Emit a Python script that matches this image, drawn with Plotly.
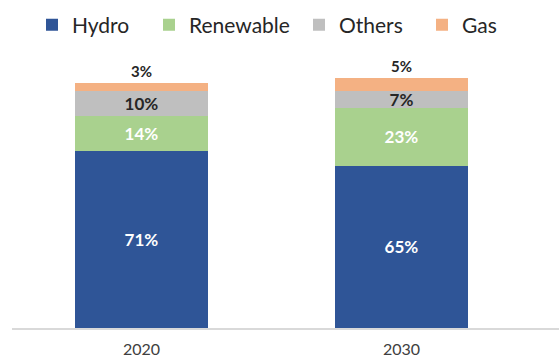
import plotly.graph_objects as go

# Generation mix share (%) by year
years = ["2020", "2030"]
hydro = [71, 65]
renewable = [14, 23]
others = [10, 7]
gas = [3, 5]

series_names = ["Hydro", "Renewable", "Others", "Gas"]
series_values = [hydro, renewable, others, gas]
series_colors = ["#2F5597", "#A9D18E", "#BFBFBF", "#F4B183"]
label_colors = ["#FFFFFF", "#FFFFFF", "#262626", "#262626"]
label_positions = ["inside", "inside", "inside", "outside"]
legend_ids = ["legend", "legend2", "legend3", "legend4"]

W, H = 559, 363
plot_left, plot_right = 12, 559
plot_top, plot_bottom = 53, 328
plot_w = plot_right - plot_left
plot_h = plot_bottom - plot_top

FONT = "Lato"

fig = go.Figure()
for name, vals, col, lcol, pos, lg in zip(series_names, series_values, series_colors,
                                          label_colors, label_positions, legend_ids):
    fig.add_trace(go.Bar(
        x=years,
        y=vals,
        name=name,
        legend=lg,
        width=0.512,
        marker=dict(color=col, line=dict(width=0)),
        text=[f"{v}%" for v in vals],
        textposition=pos,
        insidetextanchor="middle",
        textangle=0,
        constraintext="none",
        cliponaxis=False,
        textfont=dict(family=FONT, size=17 if pos == "inside" else 15,
                      color=lcol, weight="bold"),
        hoverinfo="skip",
    ))

# One legend per series so each entry can sit at its own spot along the top
legend_text_px = [72, 189, 339, 462]
legend_y = (plot_bottom - 25) / plot_h
legends = {}
for lg, tx in zip(legend_ids, legend_text_px):
    legends[lg] = dict(
        orientation="h",
        x=(tx - 40 - plot_left) / plot_w,
        xanchor="left",
        y=legend_y,
        yanchor="middle",
        font=dict(family=FONT, size=21, color="#262626"),
        bgcolor="rgba(0,0,0,0)",
        borderwidth=0,
    )

fig.update_layout(
    width=W,
    height=H,
    margin=dict(l=plot_left, r=W - plot_right, t=plot_top, b=H - plot_bottom),
    barmode="stack",
    plot_bgcolor="white",
    paper_bgcolor="white",
    showlegend=True,
    uniformtext=dict(mode=False),
    xaxis=dict(
        type="category",
        range=[-0.498, 1.606],
        showgrid=False,
        zeroline=False,
        showline=True,
        linecolor="#D9D9D9",
        linewidth=1.5,
        ticks="",
        tickfont=dict(family=FONT, size=16, color="#404040"),
        ticklabelstandoff=6,
    ),
    yaxis=dict(
        range=[0, 110],
        visible=False,
        showgrid=False,
        zeroline=False,
    ),
    **legends,
)

fig.write_html("out.html")
